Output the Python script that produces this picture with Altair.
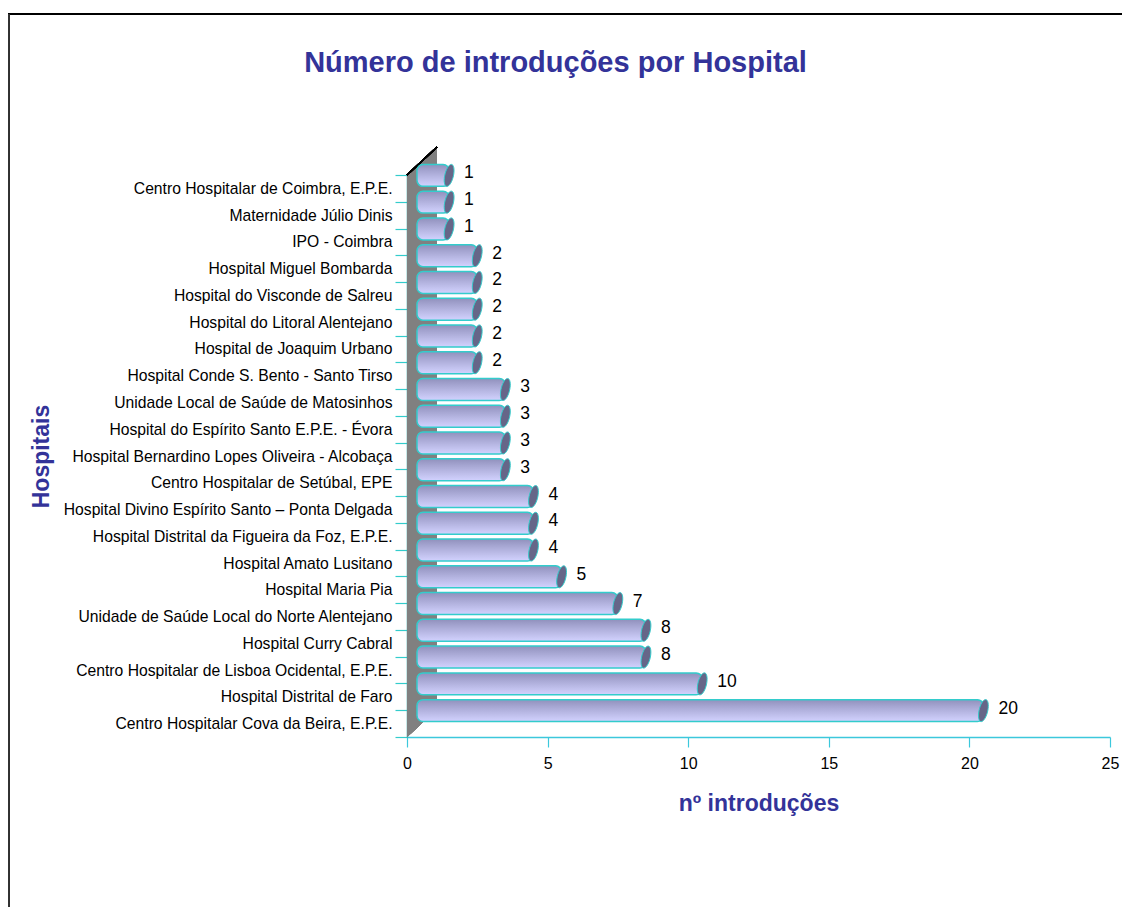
import altair as alt
import pandas as pd

hospitals = [
    "Centro Hospitalar de Coimbra, E.P.E.",
    "Maternidade Júlio Dinis",
    "IPO - Coimbra",
    "Hospital Miguel Bombarda",
    "Hospital do Visconde de Salreu",
    "Hospital do Litoral Alentejano",
    "Hospital de Joaquim Urbano",
    "Hospital Conde S. Bento - Santo Tirso",
    "Unidade Local de Saúde de Matosinhos",
    "Hospital do Espírito Santo E.P.E. - Évora",
    "Hospital Bernardino Lopes Oliveira - Alcobaça",
    "Centro Hospitalar de Setúbal, EPE",
    "Hospital Divino Espírito Santo – Ponta Delgada",
    "Hospital Distrital da Figueira da Foz, E.P.E.",
    "Hospital Amato Lusitano",
    "Hospital Maria Pia",
    "Unidade de Saúde Local do Norte Alentejano",
    "Hospital Curry Cabral",
    "Centro Hospitalar de Lisboa Ocidental, E.P.E.",
    "Hospital Distrital de Faro",
    "Centro Hospitalar Cova da Beira, E.P.E.",
]
introducoes = [1, 1, 1, 2, 2, 2, 2, 2, 3, 3, 3, 3, 4, 4, 4, 5, 7, 8, 8, 10, 20]
x_ticks = [0, 5, 10, 15, 20, 25]

df = pd.DataFrame({"Hospital": hospitals, "n": introducoes})

FONT = "Liberation Sans"
BLUE = "#333399"
CYAN = "#33CCCC"
AXIS = "#3CC8DC"

W, H = 703, 562

y_axis = alt.Axis(
    title="Hospitais",
    titleFont=FONT, titleFontSize=23, titleFontWeight="bold", titleColor=BLUE,
    titleAngle=-90, titleX=-359, titleY=H / 2, titleAlign="center",
    titleBaseline="alphabetic",
    labelFont=FONT, labelFontSize=15.7, labelColor="#000000",
    labelPadding=3, labelLimit=600,
    tickBand="extent", tickSize=12, tickColor=CYAN, tickWidth=1.2,
    domainColor="#2AA8A8", domainWidth=1.5, grid=False,
)
x_axis = alt.Axis(
    title="nº introduções",
    titleFont=FONT, titleFontSize=23, titleFontWeight="bold", titleColor=BLUE,
    titleY=73, titleBaseline="alphabetic",
    values=x_ticks, format="d", labelFlush=False,
    labelFont=FONT, labelFontSize=16, labelColor="#000000", labelPadding=8,
    tickSize=10, tickColor=AXIS, tickWidth=1.2,
    domainColor=AXIS, domainWidth=1.5, grid=False,
)
y_scale = alt.Scale(paddingInner=0, paddingOuter=0)
x_scale = alt.Scale(domain=[0, 25], nice=False, zero=True)

y_enc = alt.Y("Hospital:N", sort=hospitals, scale=y_scale, axis=y_axis)
x_enc = alt.X("n:Q", scale=x_scale, stack=None, axis=x_axis)

base = alt.Chart(df)

# decorative 3-D back wall (parallelogram) and its top edge
wall = base.mark_point(
    shape="M0,0 L30,-28 L30,534 L0,562 Z",
    size=4, filled=True, fill="#808080", stroke="#808080", strokeWidth=0, opacity=1,
).encode(x=alt.value(0), y=alt.value(0))
wall_edge = base.mark_point(
    shape="M0,0 L30,-28", size=4, filled=False, stroke="#000000", strokeWidth=1.2, opacity=1,
).encode(x=alt.value(0), y=alt.value(0))

grad = alt.Gradient(
    gradient="linear",
    stops=[
        alt.GradientStop(color="#9090BC", offset=0),
        alt.GradientStop(color="#A2A2CE", offset=0.25),
        alt.GradientStop(color="#B6B6E2", offset=0.55),
        alt.GradientStop(color="#C6C6F2", offset=0.8),
        alt.GradientStop(color="#D2D2FF", offset=1),
    ],
    x1=0, x2=0, y1=0, y2=1,
)

bars = base.mark_bar(
    color=grad, stroke=CYAN, strokeWidth=1.5, cornerRadius=6,
    height=alt.RelativeBandSize(0.82),
    xOffset=14, x2Offset=10, yOffset=-13, y2Offset=-13,
).encode(x=x_enc, x2=alt.datum(0), y=y_enc)

caps = base.mark_point(
    shape="M0.4,0 C0.29,0.5523 0.021,1 -0.2,1 C-0.421,1 -0.51,0.5523 -0.4,0 "
          "C-0.29,-0.5523 -0.021,-1 0.2,-1 C0.421,-1 0.51,-0.5523 0.4,0 Z",
    size=484, filled=True, fill="#666688", stroke=CYAN, strokeWidth=1, opacity=1,
    xOffset=14, yOffset=-13,
).encode(x=x_enc, y=y_enc)

labels = base.mark_text(
    align="left", baseline="middle", font=FONT, fontSize=17.5, color="#000000",
    dx=29, dy=-15,
).encode(x=x_enc, y=y_enc, text="n:Q")

# outer frame lines (top and left) of the original picture
frame_top = base.mark_rule(color="#000000", strokeWidth=1.5).encode(
    x=alt.value(-399), x2=alt.value(W + 12), y=alt.value(-161)
)
frame_left = base.mark_rule(color="#333333", strokeWidth=1.5).encode(
    x=alt.value(-398.5), y=alt.value(-161), y2=alt.value(H + 170)
)

chart = (
    alt.layer(frame_top, frame_left, wall, wall_edge, bars, caps, labels)
    .properties(
        width=W, height=H,
        title=alt.TitleParams(
            text="Número de introduções por Hospital",
            font=FONT, fontSize=29, fontWeight="bold", color=BLUE,
            anchor="middle", frame="group", dx=-203, dy=69,
        ),
        view=alt.ViewBackground(strokeOpacity=0, strokeWidth=0),
        padding={"left": 399, "top": 167, "right": 12, "bottom": 170},
        autosize=alt.AutoSizeParams(type="none"),
    )
    .configure_view(stroke="transparent", strokeWidth=0, strokeOpacity=0)
    .configure_axis(grid=False)
    .configure(background="#FFFFFF")
)

chart.save("out.html", embed_options={"renderer": "svg", "actions": False})
